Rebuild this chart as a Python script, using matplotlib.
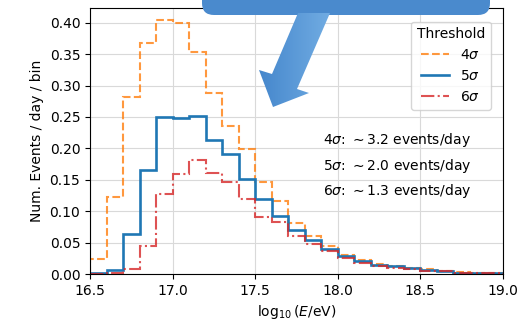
import numpy as np
import matplotlib
matplotlib.use("Agg")
import matplotlib.pyplot as plt
from matplotlib.patches import FancyBboxPatch, Polygon

# bin edges in log10(E/eV), 0.1 wide
edges = np.round(np.arange(16.5, 19.0001, 0.1), 2)

rate_4sig = [0.024, 0.123, 0.282, 0.368, 0.405, 0.399, 0.353, 0.288, 0.236, 0.199,
             0.146, 0.117, 0.082, 0.061, 0.045, 0.031, 0.022, 0.016, 0.012, 0.0095,
             0.0075, 0.005, 0.003, 0.002, 0.0015]
rate_5sig = [0.001, 0.006, 0.064, 0.166, 0.250, 0.248, 0.252, 0.213, 0.191, 0.152,
             0.119, 0.093, 0.070, 0.054, 0.040, 0.028, 0.021, 0.014, 0.012, 0.010,
             0.0064, 0.005, 0.002, 0.002, 0.0015]
rate_6sig = [0.0, 0.001, 0.008, 0.045, 0.128, 0.160, 0.182, 0.161, 0.146, 0.119,
             0.090, 0.083, 0.060, 0.047, 0.036, 0.025, 0.017, 0.0127, 0.010, 0.0085,
             0.005, 0.004, 0.002, 0.002, 0.0015]

labels = [r"4$\sigma$", r"5$\sigma$", r"6$\sigma$"]
daily = ["3.2", "2.0", "1.3"]

fig = plt.figure(figsize=(5.31, 3.21), dpi=100)
ax = fig.add_axes([0.1695, 0.1464, 0.7775, 0.8286])

ax.stairs(rate_4sig, edges, color="#ff7f0e", alpha=0.8, linestyle="--", linewidth=1.5, label=labels[0])
ax.stairs(rate_5sig, edges, color="#1f77b4", linewidth=1.9, label=labels[1])
ax.stairs(rate_6sig, edges, color="#d62728", alpha=0.8, linestyle="-.", linewidth=1.5, label=labels[2])

ax.set_xlim(16.5, 19.0)
ax.set_ylim(0, 0.4235)
ax.set_yticks(np.arange(0, 0.41, 0.05))
ax.set_xticks([16.5, 17.0, 17.5, 18.0, 18.5, 19.0])
ax.grid(color="#d9d9d9", linewidth=0.8)
ax.set_axisbelow(True)
ax.set_xlabel(r"$\log_{10}(E/\mathrm{eV})$")
ax.set_ylabel("Num. Events / day / bin")
ax.legend(title="Threshold", loc="upper right", bbox_to_anchor=(0.987, 0.975))

for i, (lab, d) in enumerate(zip(["4", "5", "6"], daily)):
    ax.text(17.91, 0.213 - i * 0.0405, rf"${lab}\sigma$: $\sim${d} events/day",
            va="center", ha="left", fontsize=10)

# callout box + arrow drawn over the top of the axes (figure pixel coords)
W, H = 531, 321
ov = fig.add_axes([0, 0, 1, 1], zorder=5)
ov.set_xlim(0, W)
ov.set_ylim(H, 0)
ov.axis("off")
box = FancyBboxPatch((202, -40), 288, 55, boxstyle="round,pad=0,rounding_size=12",
                     facecolor="#4a8acd", edgecolor="none")
ov.add_patch(box)
arrow_pts = [(298, 13), (330, 13), (297, 89), (309, 93), (273, 107), (259, 70), (272, 74)]
arrow = Polygon(arrow_pts, closed=True, facecolor="none", edgecolor="none")
ov.add_patch(arrow)
grad = np.linspace(0, 1, 100).reshape(1, -1)
cmap = matplotlib.colors.LinearSegmentedColormap.from_list("g", ["#4385cb", "#72ade3"])
im = ov.imshow(grad, extent=(255, 332, 108, 12), cmap=cmap, aspect="auto", zorder=6)
im.set_clip_path(arrow)

fig.savefig("out.png", dpi=100)
